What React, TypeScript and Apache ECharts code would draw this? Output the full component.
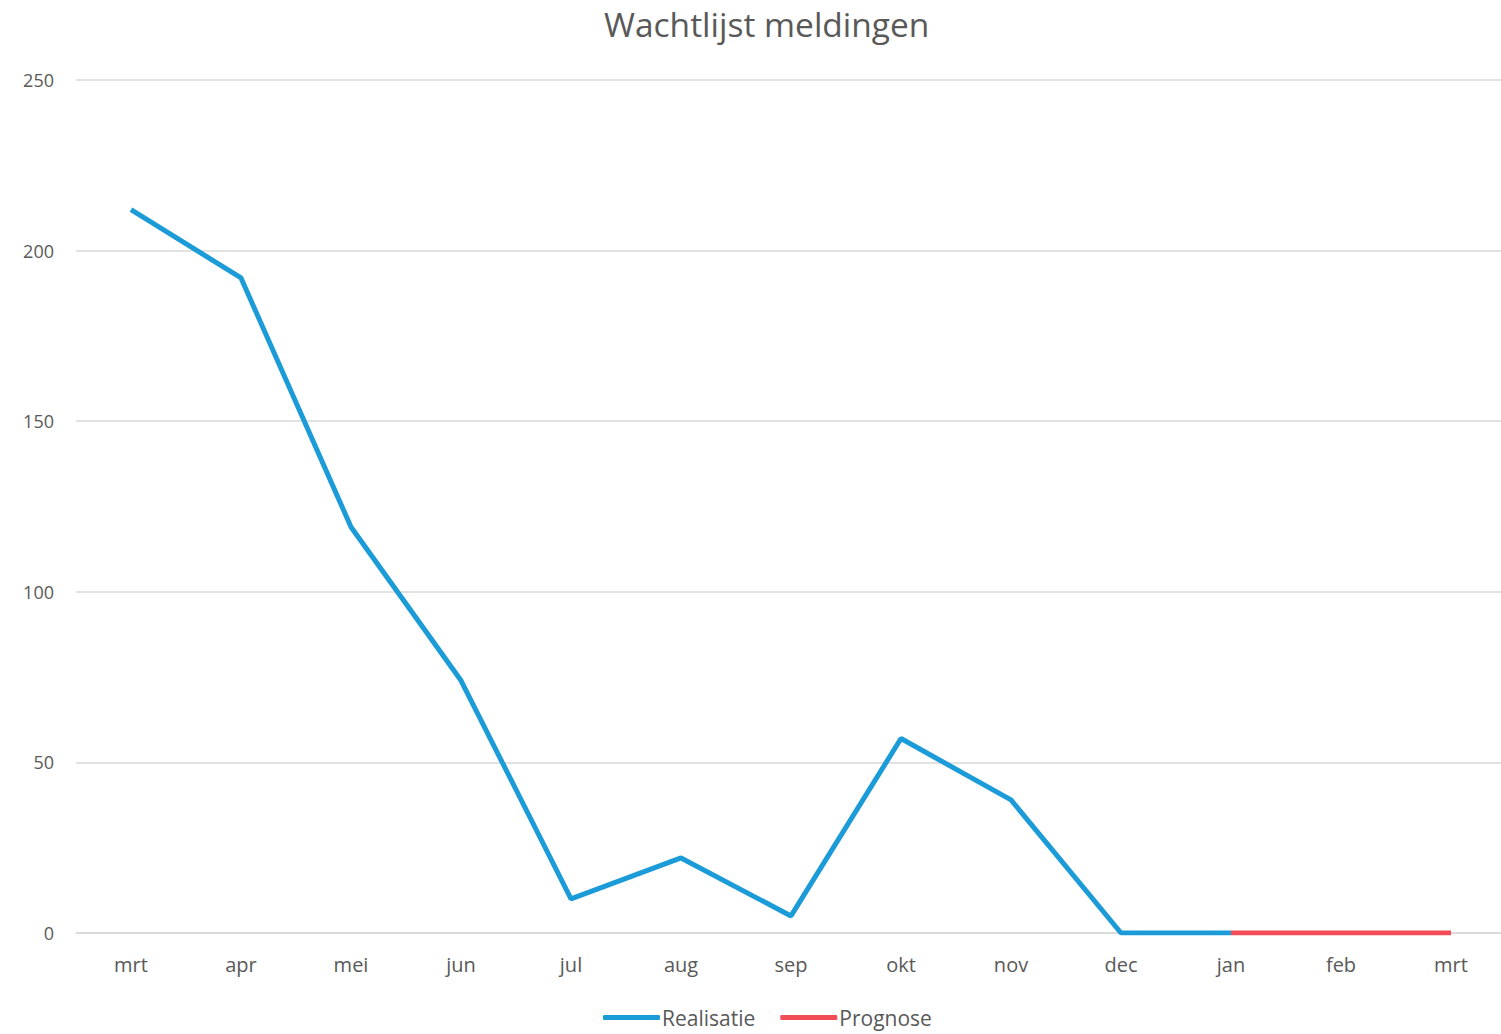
import React, { useEffect, useRef } from "react";
import * as echarts from "echarts";

const categories = ["mrt", "apr", "mei", "jun", "jul", "aug", "sep", "okt", "nov", "dec", "jan", "feb", "mrt"];
const realisatie = [212, 192, 119, 74, 10, 22, 5, 57, 39, 0, 0, null, null];
const prognose = [null, null, null, null, null, null, null, null, null, null, 0, 0, 0];

const FONT = "'Open Sans', 'Noto Sans', sans-serif";
const TEXT = "#595959";

export default function App() {
  const ref = useRef<HTMLDivElement>(null);
  useEffect(() => {
    const chart = echarts.init(ref.current!, null, { renderer: "svg" });
    chart.setOption({
      animation: false,
      backgroundColor: "#ffffff",
      title: {
        text: "Wachtlijst meldingen",
        left: 599,
        top: 2,
        textStyle: { fontFamily: FONT, fontSize: 33.5, fontWeight: "normal", color: TEXT },
      },
      legend: {
        bottom: 1,
        left: 598,
        itemWidth: 57,
        itemHeight: 5,
        itemGap: 25,
        icon: "roundRect",
        textStyle: { fontFamily: FONT, fontSize: 21, color: TEXT, padding: [0, 0, 0, -3] },
        data: ["Realisatie", "Prognose"],
      },
      grid: { left: 76, top: 80, right: 4, bottom: 101, containLabel: false },
      xAxis: {
        type: "category",
        data: categories,
        boundaryGap: true,
        axisLine: { show: true, lineStyle: { color: "#d9d9d9", width: 1.5 } },
        axisTick: { show: false },
        axisLabel: { fontFamily: FONT, fontSize: 20, color: TEXT, margin: 21 },
      },
      yAxis: {
        type: "value",
        min: 0,
        max: 250,
        interval: 50,
        axisLine: { show: false },
        axisTick: { show: false },
        splitLine: { lineStyle: { color: "#d9d9d9", width: 1.5 } },
        axisLabel: { fontFamily: FONT, fontSize: 18, color: TEXT, margin: 22 },
      },
      series: [
        {
          name: "Realisatie",
          type: "line",
          data: realisatie,
          showSymbol: false,
          symbol: "none",
          lineStyle: { color: "#1b9bd7", width: 5 },
          itemStyle: { color: "#1b9bd7" },
        },
        {
          name: "Prognose",
          type: "line",
          data: prognose,
          showSymbol: false,
          symbol: "none",
          lineStyle: { color: "#f24d57", width: 5 },
          itemStyle: { color: "#f24d57" },
        },
      ],
    });
    return () => chart.dispose();
  }, []);
  return (
    <div style={{ position: "absolute", left: 0, top: 0, width: 1501, height: 1034, overflow: "hidden" }}>
      <div ref={ref} style={{ width: 1510, height: 1034 }} />
    </div>
  );
}
